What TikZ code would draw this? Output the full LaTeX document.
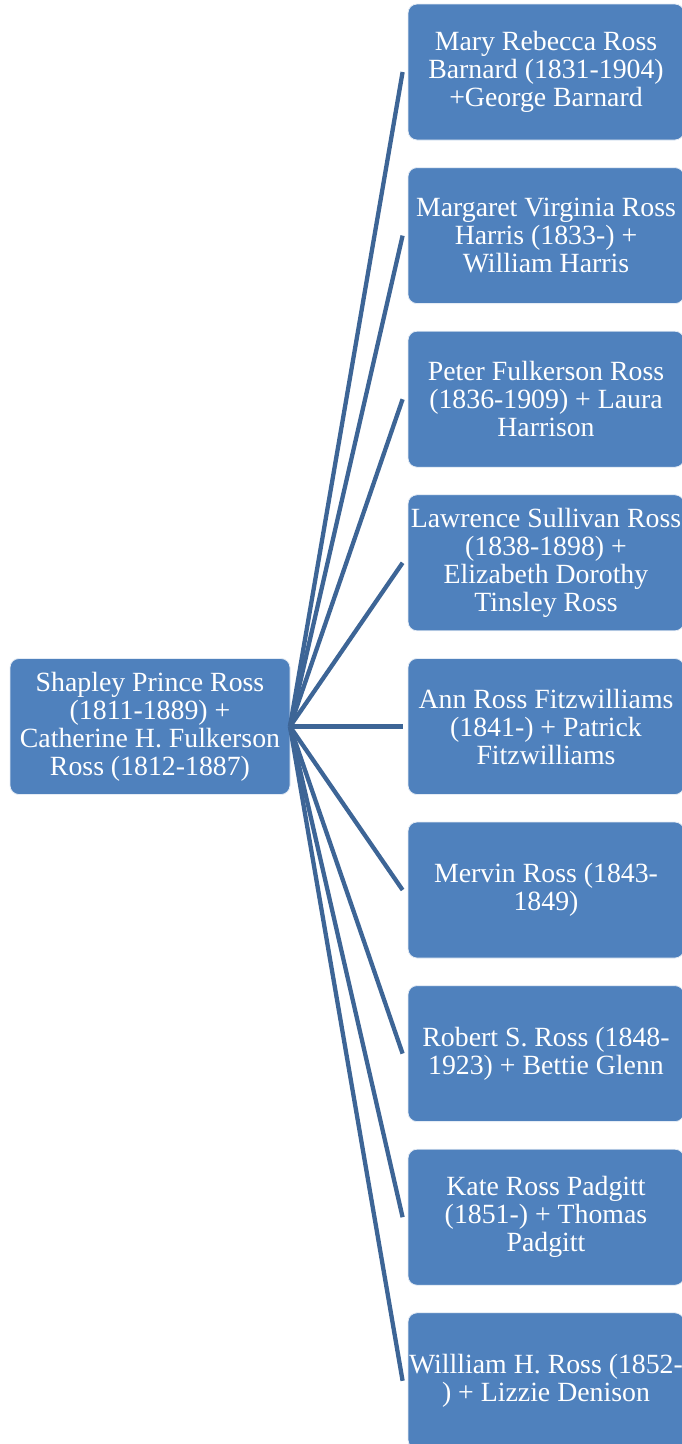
\documentclass[tikz,border=0pt]{standalone}
\usepackage{fontspec}
\setmainfont{Liberation Serif}
\definecolor{boxblue}{RGB}{79,129,189}
\definecolor{lineblue}{RGB}{61,101,150}
\begin{document}
\begin{tikzpicture}[x=1pt,y=-1pt,
  person/.style={draw=white!85!boxblue,line width=0.8pt,fill=boxblue,rounded corners=9pt,
    minimum width=276pt,minimum height=136pt,text=white,align=center,inner sep=0pt,
    font=\fontsize{27.8}{28}\selectfont},
  link/.style={draw=lineblue,line width=4.3pt}]
\useasboundingbox (0,0) rectangle (682,1444);
\node[person,minimum width=280pt] (root) at (150,726.5) {Shapley Prince Ross\\(1811-1889) +\\Catherine H. Fulkerson\\Ross (1812-1887)};
\coordinate (hub) at (290,726.5);
\node[person] (c1) at (546,72) {Mary Rebecca Ross\\Barnard (1831-1904)\\+George Barnard};
\node[person] (c2) at (546,235.6) {Margaret Virginia Ross\\Harris (1833-) +\\William Harris};
\node[person] (c3) at (546,399.2) {Peter Fulkerson Ross\\(1836-1909) + Laura\\Harrison};
\node[person] (c4) at (546,562.8) {Lawrence Sullivan Ross\\(1838-1898) +\\Elizabeth Dorothy\\Tinsley Ross};
\node[person] (c5) at (546,726.5) {Ann Ross Fitzwilliams\\(1841-) + Patrick\\Fitzwilliams};
\node[person] (c6) at (546,890) {Mervin Ross (1843-\\1849)};
\node[person] (c7) at (546,1053.6) {Robert S. Ross (1848-\\1923) + Bettie Glenn};
\node[person] (c8) at (546,1217.2) {Kate Ross Padgitt\\(1851-) + Thomas\\Padgitt};
\node[person] (c9) at (546,1380.8) {Willliam H. Ross (1852-\\) + Lizzie Denison};
\foreach \c in {c1,c2,c3,c4,c5,c6,c7,c8,c9}{
  \draw[link] (hub) -- ([xshift=-5pt]\c.west);
}
\end{tikzpicture}
\end{document}
